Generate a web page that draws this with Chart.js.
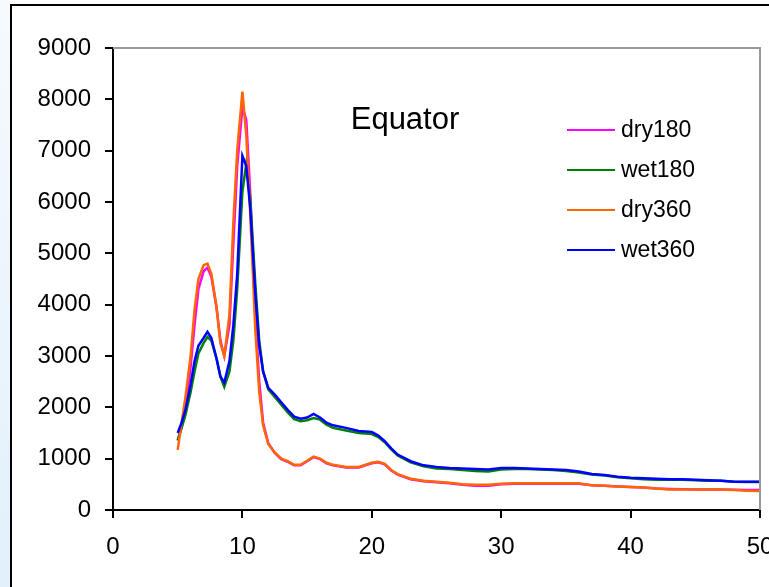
<!DOCTYPE html>
<html>
<head>
<meta charset="utf-8">
<script src="https://cdn.jsdelivr.net/npm/chart.js@4.4.1/dist/chart.umd.min.js"></script>
<style>
  html, body { margin: 0; padding: 0; background: #fff; }
  #wrap { position: relative; width: 769px; height: 587px; }
</style>
</head>
<body>
<div id="wrap"><canvas id="chart" width="769" height="587"></canvas></div>
<script>
// x positions shared by all series
const xValues = [5, 5.3, 5.6, 6, 6.3, 6.6, 7, 7.3, 7.6, 8, 8.3, 8.6, 9, 9.3, 9.6, 10, 10.3, 10.6, 11, 11.3, 11.6, 12, 12.5, 13, 13.5, 14, 14.5, 15, 15.5, 16, 16.5, 17, 18, 19, 20, 20.5, 21, 21.5, 22, 23, 24, 25, 26, 27, 28, 29, 30, 31, 32, 33, 34, 35, 36, 37, 38, 39, 40, 41, 42, 43, 44, 45, 46, 47, 48, 49, 50];

const dry180 = [1350, 1600, 2000, 2800, 3600, 4300, 4650, 4720, 4550, 3950, 3300, 3000, 3600, 5200, 6700, 7850, 7600, 6200, 3800, 2500, 1700, 1300, 1110, 990, 940, 870, 870, 950, 1030, 990, 910, 870, 830, 830, 910, 930, 890, 770, 690, 600, 560, 540, 520, 490, 470, 470, 500, 510, 510, 510, 510, 510, 510, 480, 470, 460, 450, 440, 420, 410, 405, 400, 400, 400, 395, 390, 390];
const wet180 = [1360, 1600, 1850, 2300, 2700, 3050, 3250, 3370, 3300, 2950, 2600, 2400, 2700, 3300, 4300, 6200, 6750, 6100, 4400, 3300, 2700, 2350, 2200, 2050, 1900, 1770, 1730, 1750, 1790, 1760, 1660, 1600, 1550, 1500, 1480, 1420, 1320, 1180, 1060, 930, 850, 810, 800, 780, 760, 750, 790, 800, 800, 790, 780, 760, 730, 690, 670, 640, 620, 600, 590, 590, 590, 580, 570, 570, 550, 545, 545];
const dry360 = [1170, 1700, 2200, 3000, 3900, 4500, 4770, 4800, 4600, 3950, 3250, 3000, 3800, 5600, 7000, 8150, 7300, 5800, 3500, 2300, 1650, 1280, 1120, 1000, 950, 880, 880, 960, 1040, 1000, 920, 880, 840, 840, 920, 940, 900, 780, 700, 610, 570, 550, 530, 500, 490, 490, 510, 520, 520, 520, 520, 520, 520, 480, 470, 460, 450, 440, 420, 400, 400, 400, 400, 400, 390, 375, 370];
const wet360 = [1500, 1700, 1950, 2450, 2900, 3200, 3350, 3470, 3350, 2950, 2600, 2480, 2900, 3600, 4600, 6900, 6700, 5900, 4200, 3200, 2700, 2380, 2250, 2100, 1950, 1820, 1780, 1800, 1870, 1800, 1700, 1650, 1600, 1540, 1520, 1450, 1340, 1200, 1080, 950, 870, 840, 820, 810, 800, 790, 820, 820, 810, 800, 790, 780, 750, 700, 680, 650, 630, 620, 610, 600, 600, 590, 580, 570, 550, 550, 550];

const seriesNames = ['dry180', 'wet180', 'dry360', 'wet360'];
const seriesColors = ['#ff00ff', '#008000', '#ff6600', '#0000ff'];
const titleText = 'Equator';

function toPoints(ys) {
    return xValues.map(function(x, i) { return { x: x, y: ys[i] }; });
}

const allSeries = [dry180, wet180, dry360, wet360];
const datasets = allSeries.map(function(ys, i) {
    return {
        label: seriesNames[i],
        data: toPoints(ys),
        borderColor: seriesColors[i],
        borderWidth: 2.5,
        pointRadius: 0,
        tension: 0,
        fill: false,
        order: 4 - i
    };
});

// frame, plot border, title and legend drawn around the chart
const decorations = {
    id: 'decorations',
    beforeDraw: function(chart) {
        const ctx = chart.ctx;
        ctx.save();
        ctx.fillStyle = '#fff';
        ctx.fillRect(0, 0, chart.width, chart.height);
        const grad = ctx.createLinearGradient(0, 0, 0, chart.height);
        grad.addColorStop(0, '#f6fafd');
        grad.addColorStop(1, '#e2f0fb');
        ctx.fillStyle = grad;
        ctx.fillRect(0, 0, 10, chart.height);
        ctx.fillStyle = '#000';
        ctx.fillRect(10, 4, chart.width - 10, 2);
        ctx.fillRect(10, 4, 2, chart.height - 4);
        ctx.restore();
    },
    afterDraw: function(chart) {
        const ctx = chart.ctx;
        const a = chart.chartArea;
        ctx.save();
        ctx.strokeStyle = '#999';
        ctx.lineWidth = 2;
        ctx.beginPath();
        ctx.moveTo(a.left, a.top);
        ctx.lineTo(a.right, a.top);
        ctx.lineTo(a.right, a.bottom);
        ctx.stroke();

        ctx.fillStyle = '#000';
        ctx.font = '31px "Liberation Sans", Arial, sans-serif';
        ctx.textAlign = 'center';
        ctx.textBaseline = 'middle';
        ctx.fillText(titleText, 405, 120);

        ctx.font = '23px "Liberation Sans", Arial, sans-serif';
        ctx.textAlign = 'left';
        for (let i = 0; i < seriesNames.length; i++) {
            const y = 130 + i * 40;
            ctx.strokeStyle = seriesColors[i];
            ctx.lineWidth = 2;
            ctx.beginPath();
            ctx.moveTo(567, y);
            ctx.lineTo(615, y);
            ctx.stroke();
            ctx.fillText(seriesNames[i], 621, y + 1);
        }
        ctx.restore();
    }
};

new Chart(document.getElementById('chart'), {
    type: 'line',
    data: { datasets: datasets },
    plugins: [decorations],
    options: {
        responsive: false,
        animation: false,
        layout: { padding: { top: 48, right: 9, left: 0, bottom: 0 } },
        plugins: {
            legend: { display: false },
            tooltip: { enabled: false }
        },
        scales: {
            x: {
                type: 'linear',
                min: 0,
                max: 50,
                afterFit: function(scale) {
                    scale.height = 77;
                    scale.paddingLeft = 0;
                    scale.paddingRight = 0;
                },
                ticks: {
                    stepSize: 10,
                    color: '#000',
                    padding: 15,
                    maxRotation: 0,
                    font: { family: '"Liberation Sans", Arial, sans-serif', size: 24 }
                },
                grid: { drawOnChartArea: false, drawTicks: true, tickLength: 8, color: '#000', lineWidth: 2 },
                border: { display: true, color: '#000', width: 2 }
            },
            y: {
                min: 0,
                max: 9000,
                afterFit: function(scale) { scale.width = 113; },
                ticks: {
                    stepSize: 1000,
                    color: '#000',
                    padding: 14,
                    callback: function(v) { return String(v); },
                    font: { family: '"Liberation Sans", Arial, sans-serif', size: 24 }
                },
                grid: { drawOnChartArea: false, drawTicks: true, tickLength: 8, color: '#000', lineWidth: 2 },
                border: { display: true, color: '#000', width: 2 }
            }
        }
    }
});
</script>
</body>
</html>
